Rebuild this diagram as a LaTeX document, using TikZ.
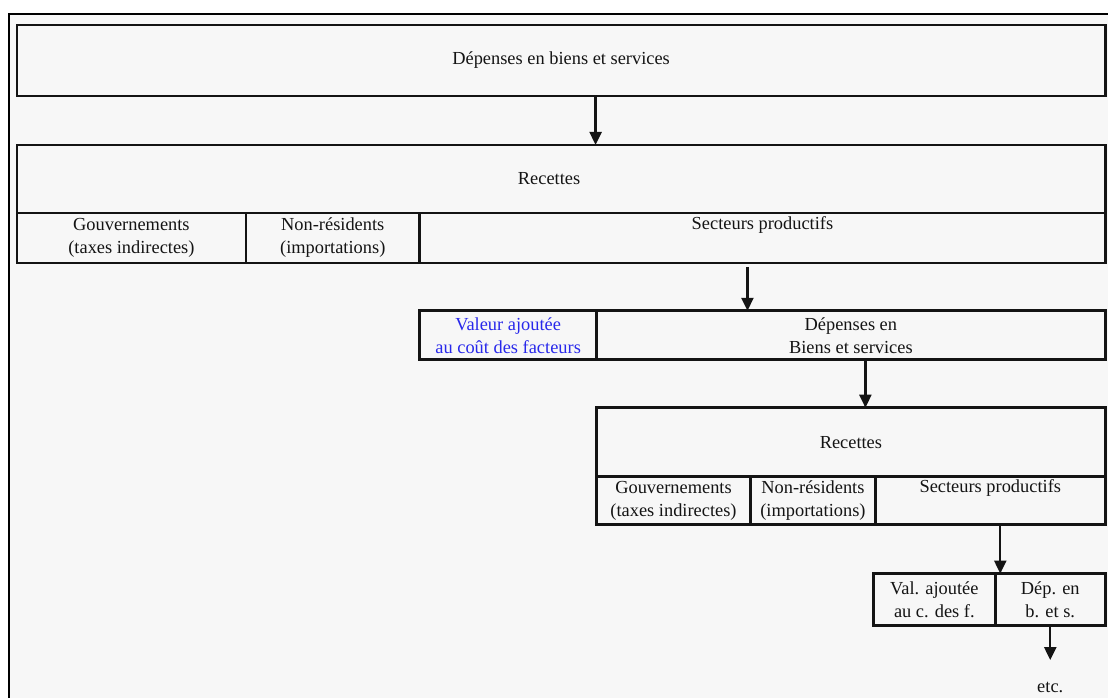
\documentclass[tikz,border=0pt]{standalone}
\usepackage{fontspec}
\setmainfont{Liberation Serif}
\usetikzlibrary{arrows.meta,positioning}

\definecolor{bgcol}{RGB}{247,247,247}
\definecolor{inkcol}{RGB}{20,20,20}
\definecolor{vablue}{RGB}{40,40,235}

\begin{document}
\begin{tikzpicture}[x=1pt,y=-1pt,>={Triangle[width=12pt,length=13pt]},
    cell/.style={draw=inkcol,line width=2.6pt,inner sep=0pt,outer sep=0pt,align=center,
      font=\fontsize{18.4}{23}\selectfont,text=inkcol,anchor=north west},
    flow/.style={->,draw=inkcol,line width=2.4pt}]
  % frame
  \fill[white] (0,0) rectangle (1109,698);
  \fill[bgcol] (9,14) rectangle (1109,698);
  \draw[line width=1.6pt] (9,698) -- (9,14) -- (1109,14);

  % first round
  \node[cell,minimum width=1089pt,minimum height=71pt] (dep0) at (17,25) {Dépenses en biens et services};
  \node[cell,minimum width=1089pt,minimum height=68pt] (rec1) at (17,145) {Recettes\hspace*{24pt}};
  \node[cell,minimum width=229pt,minimum height=50pt] (gov1) at (17,213) {Gouvernements\\(taxes indirectes)};
  \node[cell,minimum width=174pt,minimum height=50pt,right=0pt of gov1] (nonres1) {Non-résidents\\(importations)};
  \node[cell,minimum width=686pt,minimum height=50pt,right=0pt of nonres1] (sect1) {Secteurs productifs\\\strut};

  % second round
  \node[cell,minimum width=177pt,minimum height=49pt,text=vablue] (va2) at (420,311) {Valeur ajoutée\\au coût des facteurs};
  \node[cell,minimum width=509pt,minimum height=49pt,right=0pt of va2] (dep2) {Dépenses en\\Biens et services};
  \node[cell,minimum width=509pt,minimum height=69pt] (rec2) at (597,408) {Recettes};
  \node[cell,minimum width=154pt,minimum height=48pt] (gov2) at (597,477) {Gouvernements\\(taxes indirectes)};
  \node[cell,minimum width=125pt,minimum height=48pt,right=0pt of gov2] (nonres2) {Non-résidents\\(importations)};
  \node[cell,minimum width=230pt,minimum height=48pt,right=0pt of nonres2] (sect2) {Secteurs productifs\\\strut};

  % third round
  \node[cell,minimum width=122pt,minimum height=52pt] (va3) at (874,574) {Val. ajoutée\\au c. des f.};
  \node[cell,minimum width=110pt,minimum height=52pt,right=0pt of va3] (dep3) {Dép. en\\b. et s.};
  \node[font=\fontsize{18.4}{23}\selectfont,text=inkcol,inner sep=0pt] (etc) at (1051,688) {etc.};

  % flows
  \draw[flow] ([xshift=34.5pt]dep0.south) -- ([xshift=34.5pt]rec1.north);
  \draw[flow] ([xshift=-15pt,yshift=-4pt]sect1.south) -- ([xshift=-15pt]sect1.south |- dep2.north);
  \draw[flow] ([xshift=14.5pt]dep2.south) -- ([xshift=14.5pt]dep2.south |- rec2.north);
  \draw[flow] ([xshift=10pt]sect2.south) -- ([xshift=10pt]sect2.south |- dep3.north);
  \draw[flow] (dep3.south) -- ([yshift=22pt]etc.north);
\end{tikzpicture}
\end{document}
